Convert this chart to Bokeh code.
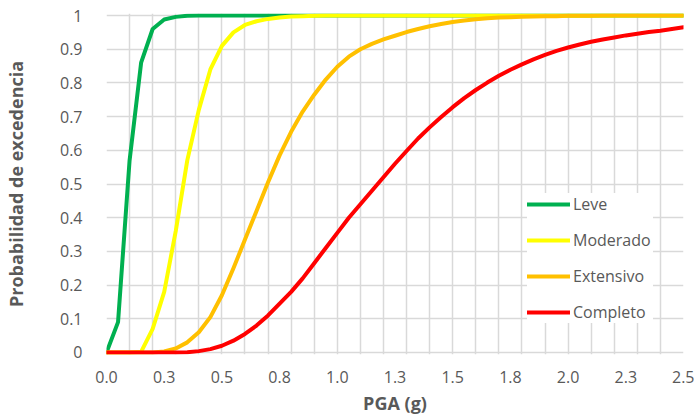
from bokeh.plotting import figure
from bokeh.models import FixedTicker, Range1d, Legend, LegendItem
from bokeh.embed import file_html
from bokeh.resources import INLINE

# ---- data ----
pga = [round(i * 0.05, 2) for i in range(51)]  # 0.00 .. 2.50 g

leve = [0, 0.09, 0.57, 0.86, 0.96, 0.988, 0.996, 0.999] + [1] * 43

moderado = [0, 0, 0, 0.002, 0.07, 0.18, 0.36, 0.57, 0.72, 0.84, 0.91, 0.95,
            0.972, 0.983, 0.99, 0.994, 0.997, 0.998, 0.999] + [1] * 32

extensivo = [0, 0, 0, 0, 0, 0.003, 0.012, 0.03, 0.06, 0.105, 0.17, 0.25,
             0.335, 0.42, 0.505, 0.585, 0.655, 0.715, 0.765, 0.81, 0.848, 0.878,
             0.9, 0.916, 0.929, 0.94, 0.951, 0.96, 0.968, 0.975, 0.981,
             0.985, 0.989, 0.992, 0.994, 0.995, 0.996, 0.997, 0.998, 0.998,
             0.999, 0.999, 0.999] + [1] * 8

completo = [0, 0, 0, 0, 0, 0, 0, 0.001, 0.004, 0.01, 0.02, 0.035, 0.055,
            0.08, 0.11, 0.145, 0.18, 0.22, 0.265, 0.31, 0.355, 0.4, 0.44,
            0.48, 0.52, 0.56, 0.598, 0.635, 0.668, 0.699, 0.728, 0.755, 0.779,
            0.801, 0.821, 0.839, 0.855, 0.87, 0.883, 0.895, 0.905, 0.914,
            0.922, 0.929, 0.935, 0.941, 0.946, 0.951, 0.955, 0.96, 0.965]

series_names = ["Leve", "Moderado", "Extensivo", "Completo"]
series_values = [leve, moderado, extensivo, completo]
series_colors = ["#00B050", "#FFFF00", "#FFC000", "#FF0000"]

x_tick_values = [0, 0.25, 0.5, 0.75, 1.0, 1.25, 1.5, 1.75, 2.0, 2.25, 2.5]
x_tick_labels = ["0.0", "0.3", "0.5", "0.8", "1.0", "1.3", "1.5", "1.8", "2.0", "2.3", "2.5"]
y_tick_values = [0, 0.1, 0.2, 0.3, 0.4, 0.5, 0.6, 0.7, 0.8, 0.9, 1]
y_tick_labels = ["0", "0.1", "0.2", "0.3", "0.4", "0.5", "0.6", "0.7", "0.8", "0.9", "1"]

FONT = "Open Sans"
GRAY = "#595959"

p = figure(width=694, height=417, output_backend="svg", toolbar_location=None,
           x_range=Range1d(0, 2.5), y_range=Range1d(-0.006, 1.006),
           min_border_left=105, min_border_right=11, min_border_top=13,
           min_border_bottom=63)
p.outline_line_color = None
p.background_fill_color = "white"
p.border_fill_color = "white"

items = []
for name, vals, col in zip(series_names, series_values, series_colors):
    r = p.line(pga, vals, line_color=col, line_width=4,
               line_join="round", line_cap="round")
    items.append(LegendItem(label=name, renderers=[r]))

# grid
grid_x = [round(i * 0.1, 1) for i in range(26)]
p.xgrid.ticker = FixedTicker(ticks=grid_x)
p.ygrid.ticker = FixedTicker(ticks=y_tick_values)
for g in (p.xgrid, p.ygrid):
    g.grid_line_color = "#d9d9d9"
    g.grid_line_width = 1.5

# axes
p.xaxis.ticker = FixedTicker(ticks=x_tick_values)
p.xaxis.major_label_overrides = {v: l for v, l in zip(x_tick_values, x_tick_labels)}
p.yaxis.ticker = FixedTicker(ticks=y_tick_values)
p.yaxis.major_label_overrides = {v: l for v, l in zip(y_tick_values, y_tick_labels)}

p.xaxis.axis_label = "PGA (g)"
p.yaxis.axis_label = "Probabilidad de excedencia"
for ax in (p.xaxis, p.yaxis):
    ax.axis_line_color = None
    ax.major_tick_line_color = None
    ax.minor_tick_line_color = None
    ax.major_label_text_font = FONT
    ax.major_label_text_font_size = "16px"
    ax.major_label_text_color = GRAY
    ax.axis_label_text_font = FONT
    ax.axis_label_text_font_size = "18px"
    ax.axis_label_text_font_style = "bold"
    ax.axis_label_text_color = GRAY
p.xaxis.major_label_standoff = 10
p.xaxis.axis_label_standoff = 5
p.yaxis.major_label_standoff = 18
p.yaxis.axis_label_standoff = 29

legend = Legend(items=items, location=(421, 31), margin=0, padding=5,
                spacing=14, glyph_width=43, glyph_height=20, label_height=20,
                label_width=80, label_standoff=3,
                label_text_font=FONT, label_text_font_size="16px",
                label_text_color=GRAY, border_line_color=None,
                background_fill_color="white", background_fill_alpha=1.0)
p.add_layout(legend, "center")

open("out.html", "w").write(file_html(p, INLINE))
